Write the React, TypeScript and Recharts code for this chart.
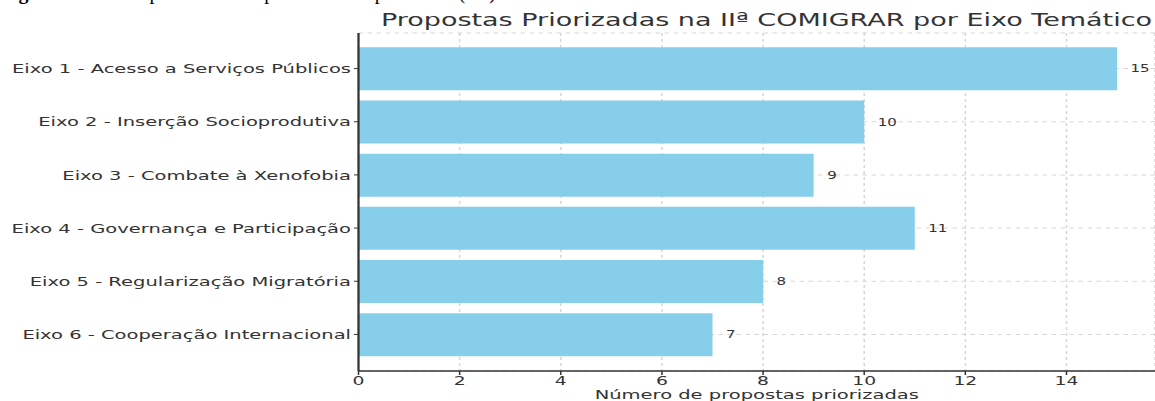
import React from "react";
import {
  BarChart,
  Bar,
  XAxis,
  YAxis,
  CartesianGrid,
  LabelList,
} from "recharts";

const eixos = [
  "Eixo 1 - Acesso a Serviços Públicos",
  "Eixo 2 - Inserção Socioprodutiva",
  "Eixo 3 - Combate à Xenofobia",
  "Eixo 4 - Governança e Participação",
  "Eixo 5 - Regularização Migratória",
  "Eixo 6 - Cooperação Internacional",
];
const propostas = [15, 10, 9, 11, 8, 7];
const xTicks = [0, 2, 4, 6, 8, 10, 12, 14];

const data = eixos.map((eixo, i) => ({ eixo, propostas: propostas[i] }));

// the source picture is stretched sideways, so the chart is drawn narrow and scaled
const STRETCH = 1.5;
const W = 770;
const H = 401;
const AXIS_W = 239;
const FONT = "DejaVu Sans, Verdana, sans-serif";

export default function App() {
  return (
    <div
      style={{
        position: "absolute",
        left: 0,
        top: 0,
        width: 1155,
        height: H,
        overflow: "hidden",
        background: "#fff",
      }}
    >
      <svg
        width={1155}
        height={12}
        style={{ position: "absolute", left: 0, top: 0 }}
      >
        <text
          x={-2}
          y={-1}
          fontFamily="Liberation Serif, Times New Roman, serif"
          fontSize={20}
          fill="#000"
          letterSpacing={1.4}
        >
          <tspan fontWeight="bold">Figura 10 – </tspan>
          Propostas mais priorizadas por eixo (65)
        </text>
      </svg>
      <div
        style={{
          position: "absolute",
          left: 0,
          top: 0,
          width: W,
          height: H,
          transform: `scaleX(${STRETCH})`,
          transformOrigin: "0 0",
          fontFamily: FONT,
        }}
      >
        <div
          style={{
            position: "absolute",
            left: 252,
            width: 518,
            top: 9,
            textAlign: "center",
            whiteSpace: "nowrap",
            fontSize: 18,
            color: "#333",
            lineHeight: "22px",
          }}
        >
          Propostas Priorizadas na IIª COMIGRAR por Eixo Temático
        </div>
        <BarChart
          width={W}
          height={H}
          data={data}
          layout="vertical"
          margin={{ top: 33, right: 0, bottom: 0, left: 0 }}
          barCategoryGap="10%"
        >
          <CartesianGrid stroke="#d6d6d6" strokeDasharray="3 3" />
          <XAxis
            type="number"
            domain={[0, 15.75]}
            ticks={xTicks}
            height={30}
            tick={{ fill: "#333", fontSize: 12.5, fontFamily: FONT }}
            tickSize={4}
            tickMargin={1}
            axisLine={{ stroke: "#333", strokeWidth: 1.5 }}
            tickLine={{ stroke: "#333" }}
            label={{
              value: "Número de propostas priorizadas",
              position: "insideBottom",
              offset: 2,
              fill: "#333",
              fontSize: 13,
              fontFamily: FONT,
            }}
          />
          <YAxis
            type="category"
            dataKey="eixo"
            width={AXIS_W}
            padding={{ top: 9, bottom: 10 }}
            tick={{ fill: "#333", fontSize: 13, fontFamily: FONT }}
            tickSize={3}
            tickMargin={2}
            axisLine={{ stroke: "#333", strokeWidth: 1.5 }}
            tickLine={{ stroke: "#333" }}
            interval={0}
          />
          <Bar dataKey="propostas" fill="#87CEEB" isAnimationActive={false}>
            <LabelList
              dataKey="propostas"
              position="right"
              offset={9}
              fill="#333"
              fontSize={10}
              fontFamily={FONT}
            />
          </Bar>
        </BarChart>
      </div>
    </div>
  );
}
